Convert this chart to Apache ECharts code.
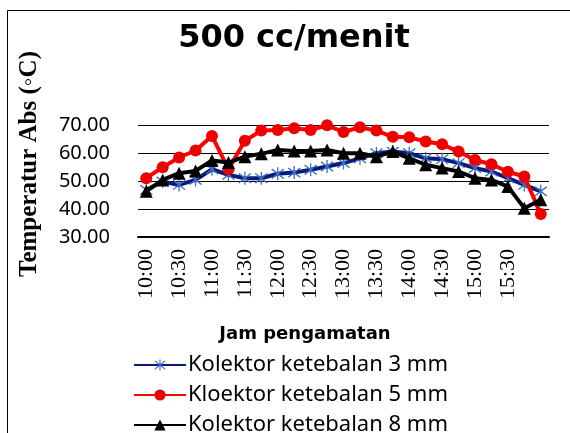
<!DOCTYPE html>
<html><head><meta charset="utf-8">
<script src="https://cdn.jsdelivr.net/npm/echarts@6/dist/echarts.min.js"></script>
<style>html,body{margin:0;padding:0;background:#fff}#c{width:570px;height:433px}</style>
</head><body><div id="c"></div>
<script>
const categories = ['10:00','10:15','10:30','10:45','11:00','11:15','11:30','11:45','12:00','12:15','12:30','12:45','13:00','13:15','13:30','13:45','14:00','14:15','14:30','14:45','15:00','15:15','15:30','15:45','16:00'];
const kolektor3 = [46.9,49.8,48.6,50.4,54.2,52.2,51.0,51.0,52.6,53.0,54.0,55.2,56.4,58.1,59.9,60.5,59.9,58.1,57.8,56.4,54.6,53.4,51.0,48.6,46.3];
const kolektor5 = [51.0,54.9,58.4,60.9,66.1,54.2,64.4,68.0,68.2,68.8,68.2,69.9,67.5,69.2,68.0,65.8,65.6,64.1,63.1,60.5,57.5,56.0,53.3,51.6,38.2];
const kolektor8 = [46.3,50.4,52.8,53.6,57.3,56.6,58.7,59.7,61.1,60.7,60.7,61.1,59.9,59.9,58.7,60.5,58.1,55.8,54.6,53.4,51.0,50.4,48.0,40.3,43.3];
const seriesNames = ['Kolektor ketebalan 3 mm','Kloektor ketebalan 5 mm','Kolektor ketebalan 8 mm'];
const yTicks = {min:30, max:70, interval:10};

const star = 'path://M9,0L11,0L11,20L9,20Z M0,3.5L1.5,2L20,16.5L18.5,18Z M18.5,2L20,3.5L1.5,18L0,16.5Z';
const legendTops = [354, 384, 414];
const chart = echarts.init(document.getElementById('c'));
chart.setOption({
  animation:false,
  backgroundColor:'#fff',
  graphic:[{type:'rect',shape:{x:7.5,y:10.5,width:600,height:500},style:{fill:'none',stroke:'#000',lineWidth:1},silent:true}],
  title:[
    {text:'500 cc/menit',left:289,top:18,textAlign:'center',textStyle:{fontFamily:'DejaVu Sans',fontWeight:'bold',fontSize:32,color:'#000'}},
    {text:'Jam pengamatan',left:300,top:320,textAlign:'center',textStyle:{fontFamily:'DejaVu Sans',fontWeight:'bold',fontSize:18,color:'#000'}}
  ],
  legend:seriesNames.map((n,i)=>({orient:'vertical',left:133,top:legendTops[i],padding:0,itemWidth:52,itemHeight:14,
    textStyle:{fontFamily:'Noto Sans',fontSize:22,color:'#000',padding:[0,0,0,-3]},data:[n]})),
  grid:{left:138,right:21,top:125,bottom:196,containLabel:false},
  xAxis:{type:'category',data:categories,boundaryGap:true,
    axisLine:{lineStyle:{color:'#000',width:2}},axisTick:{show:false},
    axisLabel:{rotate:90,interval:(i)=>i%2===0&&i<24,margin:12,fontFamily:'Liberation Serif',fontSize:22,color:'#000'}},
  yAxis:{type:'value',min:yTicks.min,max:yTicks.max,interval:yTicks.interval,
    name:'Temperatur Abs (\u25E6C)',nameLocation:'middle',nameRotate:90,nameGap:96,
    nameTextStyle:{fontFamily:'Liberation Serif',fontWeight:'bold',fontSize:25,color:'#000',padding:[0,0,0,34]},
    axisLine:{show:false},axisTick:{show:false},
    splitLine:{lineStyle:{color:'#000',width:1}},
    axisLabel:{formatter:(v)=>v.toFixed(2),margin:28,fontFamily:'Noto Sans',fontSize:20,color:'#000'}},
  series:[
    {name:seriesNames[0],type:'line',data:kolektor3,symbol:star,symbolSize:13,showAllSymbol:true,
      lineStyle:{color:'#0a1a78',width:4},itemStyle:{color:'#3d6fc4'},z:2},
    {name:seriesNames[1],type:'line',data:kolektor5,symbol:'circle',symbolSize:12,showAllSymbol:true,
      lineStyle:{color:'#ff0000',width:4},itemStyle:{color:'#ee0000'},z:3},
    {name:seriesNames[2],type:'line',data:kolektor8,symbol:'triangle',symbolSize:13,showAllSymbol:true,
      lineStyle:{color:'#000',width:4},itemStyle:{color:'#000'},z:4}
  ]
});
</script></body></html>
